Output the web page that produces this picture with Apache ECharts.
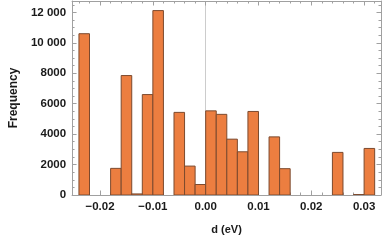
<!DOCTYPE html>
<html>
<head>
<meta charset="utf-8">
<script src="https://cdn.jsdelivr.net/npm/echarts@6/dist/echarts.min.js"></script>
<style>
html,body{margin:0;padding:0;background:#fff;}
#chart{width:382px;height:240px;}
</style>
</head>
<body>
<div id="chart"></div>
<script>
// Histogram data (bin left edges, bin width, counts)
var binStarts = [-0.024, -0.018, -0.016, -0.014, -0.012, -0.010, -0.006, -0.004, -0.002, 0.000, 0.002, 0.004, 0.006, 0.008, 0.012, 0.014, 0.024, 0.028, 0.030];
var binWidth = 0.002;
var counts = [10600, 1750, 7850, 70, 6600, 12120, 5430, 1900, 690, 5530, 5300, 3670, 2840, 5490, 3820, 1730, 2800, 30, 3060];

// Tick labels
var xTicks = [-0.02, -0.01, 0.00, 0.01, 0.02, 0.03];
var yTicks = [0, 2000, 4000, 6000, 8000, 10000, 12000];

var xName = 'd (eV)';
var yName = 'Frequency';

var X_MIN = -0.0253, X_MAX = 0.0332;
var Y_MIN = 0, Y_MAX = 12750;

// minor tick positions (layout only)
var xMinor = [];
for (var i = -13; i <= 16; i++) { var v = Math.round(i * 2) / 1000; if (v > X_MIN && v < X_MAX) xMinor.push(v); }
var yMinor = [];
for (var j = 0; j * 500 < Y_MAX; j++) { yMinor.push(j * 500); }

var data = binStarts.map(function (s, k) { return [s, s + binWidth, counts[k]]; });

var FRAME = '#a0a0a0';
var TXT = '#1a1a1a';
var FONT = '"Liberation Sans", Arial, sans-serif';

function fmtX(v) {
  var s = Math.abs(v).toFixed(2);
  return (v < -1e-9 ? '\u2212' : '') + s;
}
function fmtY(v) {
  if (v >= 10000) { var s = String(v); return s.slice(0, s.length - 3) + ' ' + s.slice(s.length - 3); }
  return String(v);
}

function xAx(pos, major, withLabel, showLine) {
  return {
    type: 'value', position: pos, min: X_MIN, max: X_MAX,
    name: withLabel ? xName : '', nameLocation: 'middle', nameGap: 29,
    nameTextStyle: { fontFamily: FONT, fontSize: 11, fontWeight: 'bold', color: TXT },
    axisLine: { show: showLine, onZero: false, lineStyle: { color: FRAME, width: 1 } },
    axisTick: { show: true, inside: true, length: major ? 4.5 : 2.5, customValues: major ? xTicks : xMinor, lineStyle: { color: FRAME, width: 1 } },
    axisLabel: { show: withLabel, customValues: xTicks, margin: 6, formatter: fmtX, fontFamily: FONT, fontSize: 11.5, fontWeight: 'bold', color: TXT, showMinLabel: true, showMaxLabel: true },
    splitLine: { show: false }, minorTick: { show: false }
  };
}
function yAx(pos, major, withLabel, showLine) {
  return {
    type: 'value', position: pos, min: Y_MIN, max: Y_MAX,
    name: withLabel ? yName : '', nameLocation: 'middle', nameGap: 51, nameRotate: 90,
    nameTextStyle: { fontFamily: FONT, fontSize: 12, fontWeight: 'bold', color: TXT },
    axisLine: { show: showLine, onZero: false, lineStyle: { color: FRAME, width: 1 } },
    axisTick: { show: true, inside: true, length: major ? 4.5 : 2.5, customValues: major ? yTicks : yMinor, lineStyle: { color: FRAME, width: 1 } },
    axisLabel: { show: withLabel, customValues: yTicks, margin: 6, formatter: fmtY, fontFamily: FONT, fontSize: 11.5, fontWeight: 'bold', color: TXT },
    splitLine: { show: false }, minorTick: { show: false }
  };
}

var chart = echarts.init(document.getElementById('chart'), null, { renderer: 'canvas' });
chart.setOption({
  animation: false,
  backgroundColor: '#ffffff',
  grid: { left: 62, right: 1, top: 1, bottom: 43, containLabel: false },
  xAxis: [xAx('bottom', true, true, true), xAx('bottom', false, false, false), xAx('top', true, false, true), xAx('top', false, false, false)],
  yAxis: [yAx('left', true, true, true), yAx('left', false, false, false), yAx('right', true, false, true), yAx('right', false, false, false)],
  series: [{
    type: 'custom',
    xAxisIndex: 0, yAxisIndex: 0,
    clip: true,
    data: data,
    encode: { x: [0, 1], y: 2 },
    renderItem: function (params, api) {
      var p0 = api.coord([api.value(0), 0]);
      var p1 = api.coord([api.value(1), api.value(2)]);
      return {
        type: 'rect',
        shape: { x: p0[0], y: p1[1], width: p1[0] - p0[0], height: p0[1] - p1[1] },
        style: { fill: '#ec7e40', stroke: '#7c4a2e', lineWidth: 1 }
      };
    },
    markLine: {
      silent: true, symbol: 'none', z: 0,
      label: { show: false },
      lineStyle: { color: '#cccccc', type: 'solid', width: 1 },
      data: [{ xAxis: 0 }]
    }
  }]
});
</script>
</body>
</html>
